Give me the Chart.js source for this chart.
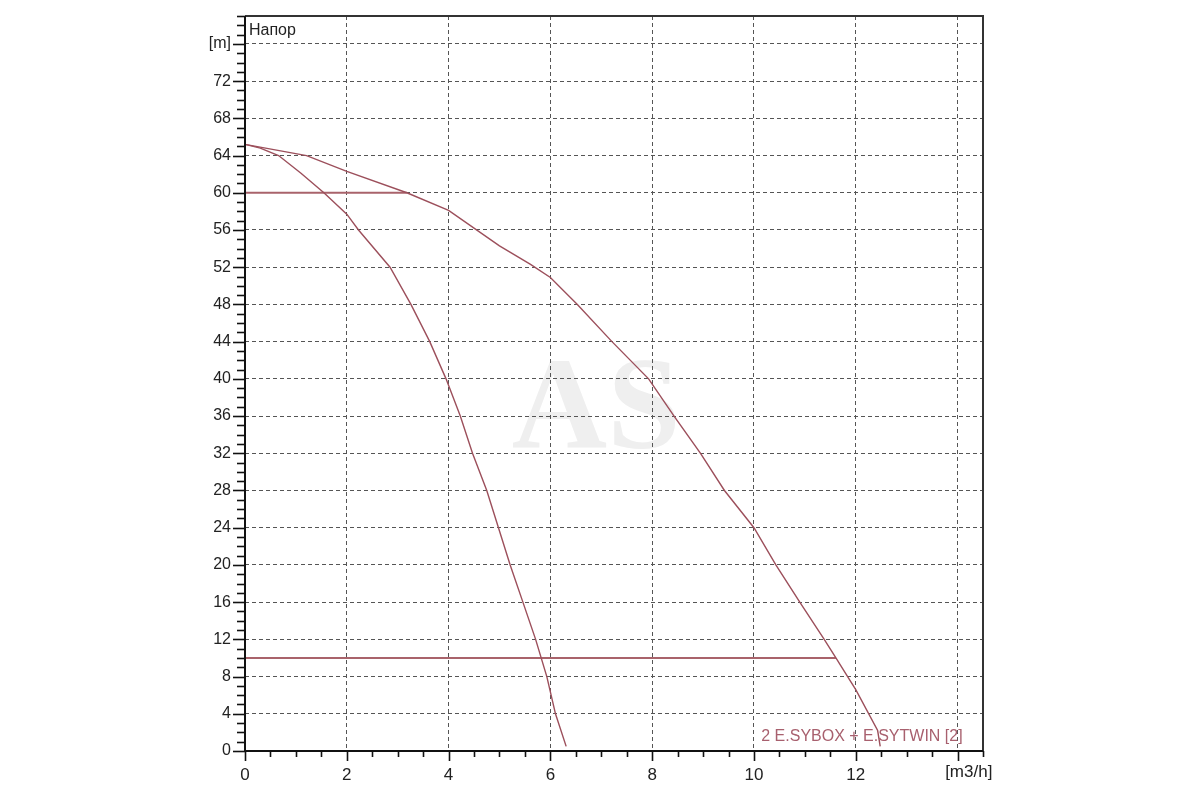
<!DOCTYPE html>
<html>
<head>
<meta charset="utf-8">
<script src="https://cdn.jsdelivr.net/npm/chart.js@4/dist/chart.umd.min.js"></script>
<style>
html,body{margin:0;padding:0;background:#fff;}
#wrap{width:1200px;height:800px;position:relative;}
</style>
</head>
<body>
<div id="wrap"><canvas id="c" width="1200" height="800"></canvas></div>
<script>
// Pump curve 1 (steeper)
const flowA = [0, 0.3, 0.66, 1.1, 1.55, 2, 2.23, 2.85, 3.26, 3.63, 3.95, 4.23, 4.47, 4.75, 4.98, 5.21, 5.46, 5.71, 5.93, 6.10, 6.31];
const headA = [65.2, 64.8, 64, 62.1, 60, 57.7, 56, 52, 48, 44, 40, 36, 32, 28, 24, 20, 16, 12, 8, 4, 0.5];
// Pump curve 2 (combined)
const flowB = [0, 1.21, 2, 3.18, 4, 5, 5.61, 6, 6.53, 7.21, 7.93, 8.43, 8.95, 9.42, 10, 10.43, 10.9, 11.38, 11.61, 11.84, 12, 12.43, 12.48];
const headB = [65.2, 64, 62.3, 60, 58.1, 54.3, 52.3, 50.9, 48, 44, 40, 36, 32, 28, 24, 20, 16, 12, 10, 8, 6.6, 2.2, 0.5];
// Horizontal duty lines
const dutyHead = [60, 10];
const dutyFlowEnd = [3.18, 11.61];
// Axis labels / texts
const yUnitLabel = '[m]';
const xUnitLabel = '[m3/h]';
const titleText = 'Напор';
const legendText = '2 E.SYBOX + E.SYTWIN [2]';
const watermarkText = 'AS';

const curveColor = '#9c4f5b';
const dutyColor = '#a9636b';
const FONT = '"Liberation Sans", Arial, sans-serif';

const toPts = (xs, ys) => xs.map((x, i) => ({x: x, y: ys[i]}));

const datasets = [
  {data: toPts(flowA, headA), borderColor: curveColor, borderWidth: 1.4},
  {data: toPts(flowB, headB), borderColor: curveColor, borderWidth: 1.4}
];
dutyHead.forEach((h, i) => {
  datasets.push({data: [{x: 0, y: h}, {x: dutyFlowEnd[i], y: h}], borderColor: dutyColor, borderWidth: 2});
});
datasets.forEach(d => { d.pointRadius = 0; d.showLine = true; d.tension = 0; d.fill = false; });

const decorPlugin = {
  id: 'decor',
  beforeDraw(chart) {
    const ctx = chart.ctx;
    ctx.save();
    ctx.fillStyle = '#fff';
    ctx.fillRect(0, 0, chart.width, chart.height);
    const xs = chart.scales.x, ys = chart.scales.y;
    ctx.fillStyle = '#efefef';
    ctx.font = 'bold 132px "Liberation Serif", serif';
    ctx.textAlign = 'center';
    ctx.textBaseline = 'alphabetic';
    ctx.fillText(watermarkText, xs.getPixelForValue(6.9), ys.getPixelForValue(32.6));
    ctx.restore();
  },
  afterDraw(chart) {
    const ctx = chart.ctx;
    const xs = chart.scales.x, ys = chart.scales.y;
    const a = chart.chartArea;
    ctx.save();
    // frame
    ctx.strokeStyle = '#333';
    ctx.lineWidth = 2;
    ctx.beginPath();
    ctx.moveTo(a.left, a.top); ctx.lineTo(a.right, a.top); ctx.lineTo(a.right, a.bottom);
    ctx.stroke();
    ctx.strokeStyle = '#111';
    ctx.beginPath();
    ctx.moveTo(a.left, a.top); ctx.lineTo(a.left, a.bottom); ctx.lineTo(a.right, a.bottom);
    ctx.stroke();
    // y ticks
    ctx.lineWidth = 1.6;
    ctx.strokeStyle = '#111';
    for (let v = 0; v <= ys.max + 1e-6; v += 1) {
      const p = Math.round(ys.getPixelForValue(v)) + 0.5;
      const len = (v % 4 === 0) ? 12 : 8;
      ctx.beginPath(); ctx.moveTo(a.left - len, p); ctx.lineTo(a.left, p); ctx.stroke();
    }
    // x ticks
    for (let v = 0; v <= xs.max + 1e-6; v += 0.5) {
      const p = Math.round(xs.getPixelForValue(v)) + 0.5;
      const len = (Math.abs(v % 2) < 1e-6) ? 10 : 6;
      ctx.beginPath(); ctx.moveTo(p, a.bottom); ctx.lineTo(p, a.bottom + len); ctx.stroke();
    }
    // texts
    ctx.fillStyle = '#222';
    ctx.font = '16px ' + FONT;
    ctx.textAlign = 'left';
    ctx.textBaseline = 'middle';
    ctx.fillText(titleText, a.left + 4, a.top + 15);
    ctx.font = '17px ' + FONT;
    ctx.textAlign = 'center';
    ctx.textBaseline = 'top';
    ctx.fillText(xUnitLabel, xs.getPixelForValue(14.22), a.bottom + 13);
    ctx.fillStyle = '#a8606e';
    ctx.font = '16px ' + FONT;
    ctx.textAlign = 'right';
    ctx.textBaseline = 'middle';
    ctx.fillText(legendText, xs.getPixelForValue(14.1), ys.getPixelForValue(1.5));
    ctx.restore();
  }
};

new Chart(document.getElementById('c'), {
  type: 'scatter',
  data: {datasets: datasets},
  options: {
    responsive: false,
    animation: false,
    events: [],
    layout: {padding: {top: 16, right: 217, left: 0, bottom: 0}},
    plugins: {legend: {display: false}, tooltip: {enabled: false}},
    scales: {
      x: {
        type: 'linear', min: 0, max: 14.5,
        afterFit(s) { s.height = 49; s.paddingLeft = 0; s.paddingRight = 0; },
        grid: {color: '#555', lineWidth: 1, drawTicks: false},
        border: {display: false, dash: [4, 3]},
        ticks: {
          stepSize: 2, includeBounds: false, padding: 14, color: '#222',
          font: {family: FONT, size: 17},
          maxRotation: 0, autoSkip: false,
          callback: v => (v === 14 ? '' : v)
        }
      },
      y: {
        type: 'linear', min: 0, max: 79,
        afterFit(s) { s.width = 245; s.paddingTop = 0; s.paddingBottom = 0; },
        grid: {color: '#555', lineWidth: 1, drawTicks: false},
        border: {display: false, dash: [4, 3]},
        ticks: {
          stepSize: 4, includeBounds: false, padding: 14, color: '#222',
          font: {family: FONT, size: 16},
          autoSkip: false,
          callback: v => (v === 76 ? yUnitLabel : v)
        }
      }
    }
  },
  plugins: [decorPlugin]
});
</script>
</body>
</html>
